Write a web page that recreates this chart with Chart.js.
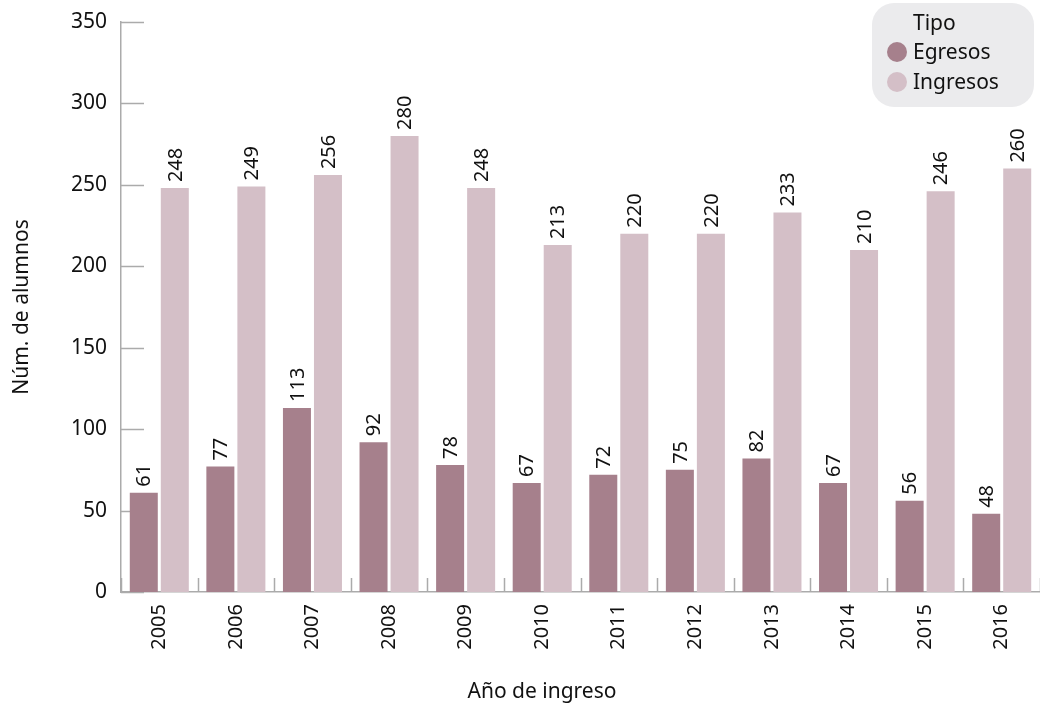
<!DOCTYPE html>
<html>
<head>
<meta charset="utf-8">
<script src="https://cdn.jsdelivr.net/npm/chart.js@4.4.1/dist/chart.umd.min.js"></script>
<style>
    body { margin: 0; background: #fff; }
    #wrap { position: relative; width: 1040px; height: 708px; font-family: "Noto Sans", sans-serif; }
    #legend {
        position: absolute; left: 872px; top: 3px; width: 162px; height: 104px;
        background: #ebebed; border-radius: 22px; color: #111; font-size: 21px;
    }
    #legend .title { position: absolute; left: 41px; top: 5px; }
    #legend .item { position: absolute; left: 15px; }
    #legend .dot { display: inline-block; width: 20px; height: 20px; border-radius: 50%; vertical-align: -3px; margin-right: 6px; }
</style>
</head>
<body>
<div id="wrap">
    <canvas id="chart" width="1040" height="708"></canvas>
    <div id="legend">
        <div class="title">Tipo</div>
        <div class="item" style="top:34px"><span class="dot" style="background:#a6808c"></span>Egresos</div>
        <div class="item" style="top:64px"><span class="dot" style="background:#d4bfc7"></span>Ingresos</div>
    </div>
</div>
<script>
const years = ["2005", "2006", "2007", "2008", "2009", "2010", "2011", "2012", "2013", "2014", "2015", "2016"];
const egresos = [61, 77, 113, 92, 78, 67, 72, 75, 82, 67, 56, 48];
const ingresos = [248, 249, 256, 280, 248, 213, 220, 220, 233, 210, 246, 260];

const axisColor = "#ababab";
const fontFamily = "'Noto Sans', sans-serif";

// short tick marks drawn inside the plot area
const innerTicks = {
    id: "innerTicks",
    beforeDatasetsDraw(chart) {
        const { ctx, chartArea, scales } = chart;
        ctx.save();
        ctx.strokeStyle = axisColor;
        ctx.lineWidth = 1.5;
        scales.y.ticks.forEach((t) => {
            const py = Math.round(scales.y.getPixelForValue(t.value)) + 0.5;
            ctx.beginPath();
            ctx.moveTo(chartArea.left, py);
            ctx.lineTo(chartArea.left + 23, py);
            ctx.stroke();
        });
        const step = scales.x.getPixelForValue(1) - scales.x.getPixelForValue(0);
        for (let i = 0; i <= years.length; i++) {
            const px = Math.round(scales.x.getPixelForValue(i) - step / 2) + 0.5;
            ctx.beginPath();
            ctx.moveTo(px, chartArea.bottom);
            ctx.lineTo(px, chartArea.bottom - 14);
            ctx.stroke();
        }
        ctx.restore();
    },
};

// vertical value labels above each bar + x axis title
const barLabels = {
    id: "barLabels",
    afterDatasetsDraw(chart) {
        const { ctx } = chart;
        ctx.save();
        ctx.font = "20px " + fontFamily;
        ctx.fillStyle = "#111";
        ctx.textAlign = "left";
        ctx.textBaseline = "middle";
        chart.data.datasets.forEach((ds, di) => {
            chart.getDatasetMeta(di).data.forEach((bar, i) => {
                ctx.save();
                ctx.translate(bar.x, bar.y - 6);
                ctx.rotate(-Math.PI / 2);
                ctx.fillText(String(ds.data[i]), 0, 1);
                ctx.restore();
            });
        });
        ctx.font = "21px " + fontFamily;
        ctx.textAlign = "center";
        ctx.fillText("Año de ingreso", 542, 692);
        ctx.restore();
    },
};

new Chart(document.getElementById("chart"), {
    type: "bar",
    data: {
        labels: years,
        datasets: [
            { label: "Egresos", data: egresos, backgroundColor: "#a6808c" },
            { label: "Ingresos", data: ingresos, backgroundColor: "#d4bfc7" },
        ],
    },
    options: {
        responsive: false,
        animation: false,
        categoryPercentage: 0.81,
        barPercentage: 0.903,
        layout: { padding: { top: 22, right: 0, bottom: 0, left: 0 } },
        plugins: { legend: { display: false }, tooltip: { enabled: false } },
        scales: {
            x: {
                grid: { display: false, drawTicks: false },
                border: { display: true, color: axisColor, width: 1.5 },
                ticks: {
                    minRotation: 90, maxRotation: 90, padding: 12,
                    color: "#111", font: { family: fontFamily, size: 20 },
                },
                afterFit(scale) {
                    scale.height = 116;
                    scale.paddingLeft = 0;
                    scale.paddingRight = 0;
                },
            },
            y: {
                min: 0, max: 350,
                grid: { display: false, drawTicks: false },
                border: { display: true, color: axisColor, width: 1.5 },
                ticks: {
                    stepSize: 50, padding: 14,
                    color: "#111", font: { family: fontFamily, size: 21 },
                },
                title: {
                    display: true, text: "Núm. de alumnos", color: "#111",
                    font: { family: fontFamily, size: 21 }, padding: { top: 9, bottom: 0 },
                },
                afterFit(scale) {
                    scale.width = 121;
                    scale.paddingTop = 0;
                    scale.paddingBottom = 0;
                },
            },
        },
    },
    plugins: [innerTicks, barLabels],
});
</script>
</body>
</html>
